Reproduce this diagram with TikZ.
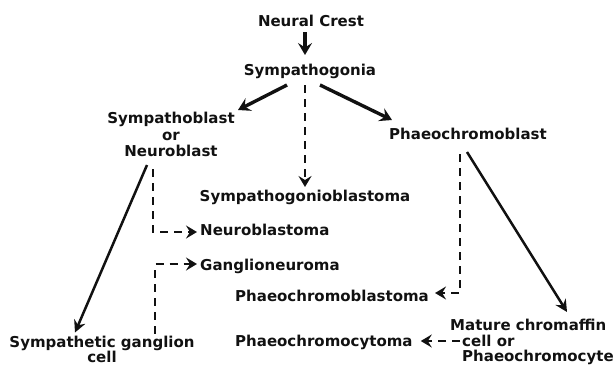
\documentclass[tikz,border=0pt]{standalone}
\usepackage{fontspec}
\setmainfont{DejaVu Sans}
\definecolor{ink}{HTML}{111111}
\usetikzlibrary{arrows.meta,calc}

\begin{document}
\begin{tikzpicture}[x=1pt,y=-1pt,
    lb/.style={inner sep=0pt,text=ink,font=\fontsize{15}{16}\selectfont\bfseries},
    ar/.style={-{Stealth[length=12pt,width=14pt,inset=4.5pt]},ink,line width=3.4pt},
    al/.style={-{Stealth[length=12pt,width=12pt,inset=4pt]},ink,line width=2.5pt},
    ad/.style={-{Stealth[length=11pt,width=13pt,inset=4pt]},ink,line width=2.6pt,
      dash pattern=on 8pt off 6pt},
  ]
    \useasboundingbox (0,0) rectangle (615,367);
    \node[lb,anchor=base](nc) at (311,26) {Neural Crest};
    \node[lb,anchor=base](sg) at (310,75) {Sympathogonia};
    \node[lb,anchor=north,align=center,font=\fontsize{15}{16.5}\selectfont\bfseries](snb)
      at (171,112) {Sympathoblast\\or\\Neuroblast};
    \node[lb,anchor=base](pb) at (468,139) {Phaeochromoblast};
    \node[lb,anchor=base](sgb) at (305,201) {Sympathogonioblastoma};
    \node[lb,anchor=base west](nbl) at (200,235) {Neuroblastoma};
    \node[lb,anchor=base west](gn) at (200,270) {Ganglioneuroma};
    \node[lb,anchor=base west](pbl) at (235,301) {Phaeochromoblastoma};
    \node[lb,anchor=base west](pcy) at (235,346) {Phaeochromocytoma};
    \node[lb,anchor=north,align=center,font=\fontsize{15}{13.5}\selectfont\bfseries](sgc)
      at (102,335.5) {Sympathetic ganglion\\cell};
    \node[lb,anchor=north west,align=left,font=\fontsize{15}{15.5}\selectfont\bfseries](mat)
      at (462,319) {\hspace*{-12pt}Mature chromaffin\\cell or\\Phaeochromocyte};
    % main line
    \draw[ar]($(nc.base)+(-6,6)$)--($(sg.base)+(-5,-20)$);
    \draw[ar]($(sg.base)+(-23,10)$)--($(snb.north)+(67,-2)$);
    \draw[ar]($(sg.base)+(10,10)$)--($(pb.base)+(-76,-19)$);
    \draw[ad]($(sg.base)+(-5,10)$)--($(sgb.base)+(0,-14)$);
    % neuroblast side
    \draw[al]($(snb.north)+(-24,53)$)--($(sgc.north)+(-27,-3)$);
    \draw[ad]($(snb.north)+(-18,57)$)|-($(nbl.base west)+(-3,-3)$);
    \draw[ad]($(sgc.north)+(53,-2)$)|-($(gn.base west)+(-3,-6)$);
    % phaeochromoblast side
    \draw[ad]($(pb.base)+(-8,15)$)|-($(pbl.base east)+(6,-8)$);
    \draw[al]($(pb.base)+(-1,13)$)--($(mat.north west)+(105,-7)$);
    \draw[ad]($(mat.north west)+(-2,22)$)--($(pcy.base east)+(8,-5)$);
\end{tikzpicture}
\end{document}
